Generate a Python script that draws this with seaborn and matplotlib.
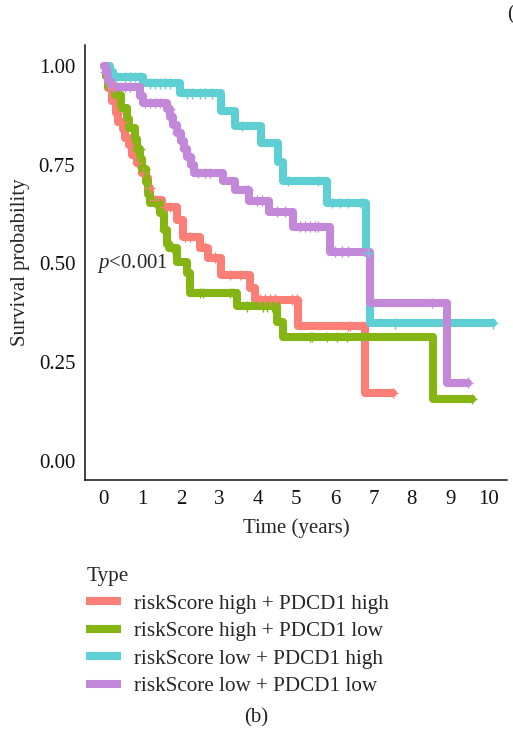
import numpy as np
import pandas as pd
import matplotlib
matplotlib.use("Agg")
import matplotlib.pyplot as plt
import seaborn as sns

# Kaplan-Meier curves: event times (years) and survival after each event
groups = ["riskScore high + PDCD1 high", "riskScore high + PDCD1 low",
          "riskScore low + PDCD1 high", "riskScore low + PDCD1 low"]
colors = ["#FC7F77", "#85B512", "#5ECFD3", "#C488DB"]

hh_time = [0.05, 0.12, 0.22, 0.32, 0.38, 0.50, 0.56, 0.65, 0.73, 0.85, 0.98, 1.10,
           1.15, 1.20, 1.50, 1.90, 2.05, 2.50, 2.70, 3.05, 3.80, 3.93, 5.05, 6.78]
hh_surv = [0.975, 0.944, 0.910, 0.880, 0.858, 0.840, 0.818, 0.800, 0.775, 0.755, 0.730, 0.716,
           0.690, 0.660, 0.643, 0.610, 0.567, 0.540, 0.515, 0.471, 0.438, 0.408, 0.342, 0.172]
hh_cens = [0.21, 0.36, 0.49, 0.68, 0.86, 1.01, 1.19, 1.32, 1.58, 1.71, 2.10, 2.23, 2.62,
           2.88, 3.27, 3.53, 4.05, 4.18, 4.31, 4.44, 4.88, 5.01, 6.34, 6.39, 6.73, 7.50]

hl_time = [0.05, 0.12, 0.28, 0.45, 0.60, 0.65, 0.80, 0.85, 0.95, 1.00, 1.10, 1.15, 1.20,
           1.45, 1.55, 1.65, 1.70, 1.90, 2.15, 2.23, 3.45, 4.50, 4.65, 8.55]
hl_surv = [0.975, 0.950, 0.927, 0.894, 0.865, 0.843, 0.815, 0.790, 0.765, 0.740, 0.706, 0.675,
           0.653, 0.628, 0.585, 0.550, 0.540, 0.503, 0.475, 0.425, 0.392, 0.352, 0.314, 0.157]
hl_cens = [0.94, 1.06, 1.32, 1.58, 1.77, 2.49, 2.57, 3.27, 3.35, 3.71, 4.13, 4.23, 4.36,
           5.35, 5.40, 5.79, 6.05, 6.31, 9.55]

lh_time = [0.15, 0.25, 1.01, 1.97, 3.04, 3.40, 4.08, 4.52, 4.65, 5.79, 6.80, 6.91]
lh_surv = [0.985, 0.972, 0.956, 0.931, 0.887, 0.848, 0.805, 0.757, 0.709, 0.653, 0.527, 0.349]
lh_cens = [0.21, 0.31, 0.55, 0.68, 0.81, 0.94, 1.19, 1.32, 1.45, 1.58, 1.71, 2.16, 2.29,
           2.49, 2.62, 2.81, 3.58, 4.78, 5.56, 5.92, 6.13, 6.34, 6.65, 6.73, 6.86, 7.56, 10.10]

ll_time = [0.05, 0.12, 0.18, 0.95, 1.02, 1.64, 1.72, 1.80, 1.90, 2.00, 2.08, 2.15, 2.25,
           2.35, 3.10, 3.40, 3.78, 4.30, 4.90, 5.87, 6.91, 8.90]
ll_surv = [0.985, 0.962, 0.947, 0.925, 0.906, 0.890, 0.870, 0.850, 0.830, 0.810, 0.790, 0.770,
           0.750, 0.729, 0.708, 0.686, 0.659, 0.631, 0.593, 0.530, 0.400, 0.198]
ll_cens = [0.05, 0.16, 0.29, 0.42, 0.55, 0.68, 1.06, 1.19, 1.32, 1.45, 1.71, 1.92, 2.10,
           2.23, 2.44, 2.62, 2.75, 3.66, 3.74, 3.97, 4.10, 4.49, 4.70, 5.09, 5.22, 5.35,
           5.48, 5.56, 6.00, 6.18, 6.34, 8.52, 9.45]

x_ticks = list(range(0, 11))
y_ticks = [0.00, 0.25, 0.50, 0.75, 1.00]

series = [(hh_time, hh_surv, hh_cens), (hl_time, hl_surv, hl_cens),
          (lh_time, lh_surv, lh_cens), (ll_time, ll_surv, ll_cens)]

curve_rows, cens_rows = [], []
for name, (t, s, c) in zip(groups, series):
    t_full = [0.0] + list(t) + [max(c)]
    s_full = [1.0] + list(s) + [s[-1]]
    for ti, si in zip(t_full, s_full):
        curve_rows.append((name, ti, si))
    t_arr = np.array(t_full[:-1])
    s_arr = np.array(s_full[:-1])
    for ci in c:
        idx = np.searchsorted(t_arr, ci, side="right") - 1
        cens_rows.append((name, ci, s_arr[idx]))

curves = pd.DataFrame(curve_rows, columns=["Type", "time", "surv"])
cens = pd.DataFrame(cens_rows, columns=["Type", "time", "surv"])

sns.set_style("white")
serif = ["Liberation Serif", "DejaVu Serif"]
plt.rcParams["font.family"] = serif
plt.rcParams["mathtext.fontset"] = "custom"
plt.rcParams["mathtext.it"] = "Liberation Serif:italic"
plt.rcParams["mathtext.rm"] = "Liberation Serif"

fs = 15
lw = 5.8
fig = plt.figure(figsize=(5.13, 7.48), dpi=100)
ax = fig.add_axes([85 / 513, 1 - 480 / 748, (507 - 85) / 513, (480 - 45) / 748])

palette = dict(zip(groups, colors))
sns.lineplot(data=curves, x="time", y="surv", hue="Type", hue_order=groups,
             palette=palette, estimator=None, sort=False, drawstyle="steps-post",
             linewidth=lw, solid_joinstyle="round", solid_capstyle="round", ax=ax)
sns.scatterplot(data=cens, x="time", y="surv", hue="Type", hue_order=groups,
                palette=palette, marker="+", s=60, linewidth=1.0, legend=False,
                ax=ax, zorder=3)

ax.set_xlim(-0.49, 10.47)
ax.set_ylim(-0.048, 1.053)
ax.set_xticks(x_ticks)
ax.set_xticklabels([str(v) for v in x_ticks])
ax.set_yticks(y_ticks)
ax.set_yticklabels([f"{v:.2f}" for v in y_ticks])
ax.tick_params(axis="both", direction="out", length=4, width=1.1, colors="#111111",
               labelsize=fs, pad=3)
for side in ["top", "right"]:
    ax.spines[side].set_visible(False)
for side in ["left", "bottom"]:
    ax.spines[side].set_color("#111111")
    ax.spines[side].set_linewidth(1.1)
ax.set_xlabel("Time (years)", fontsize=fs, labelpad=7)
ax.set_ylabel("Survival probability", fontsize=fs, labelpad=6)

ax.text(-0.18, 0.50, r"$p$<0.001", fontsize=fs, ha="left", va="center")

sns.move_legend(ax, loc="upper left", bbox_to_anchor=(78 / 513, 1 - 559 / 748),
                bbox_transform=fig.transFigure, frameon=False, title="Type",
                fontsize=15.2, title_fontsize=15.2, handlelength=1.65,
                handletextpad=0.6, labelspacing=0.36, borderaxespad=0)
leg = ax.get_legend()
leg._legend_box.align = "left"
for h in leg.legend_handles:
    h.set_linewidth(lw)
    h.set_solid_capstyle("butt")

fig.text(256 / 513, 1 - 718 / 748, "(b)", fontsize=fs, ha="center", va="center")
fig.text(507 / 513, 1 - 15 / 748, "(", fontsize=fs, ha="left", va="center")

fig.savefig("out.png", dpi=100)
